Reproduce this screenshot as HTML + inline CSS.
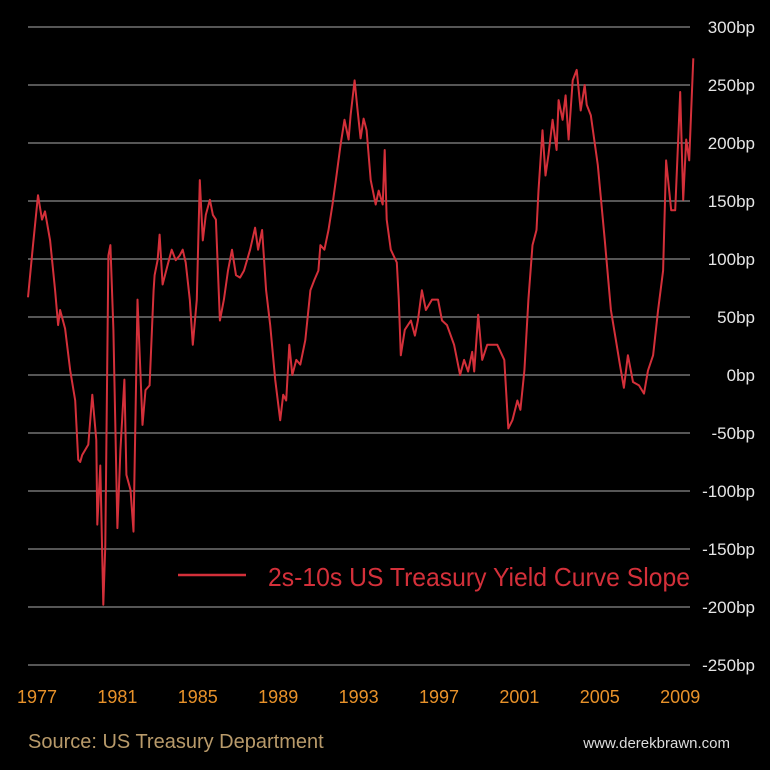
<!DOCTYPE html>
<html><head><meta charset="utf-8"><style>
html,body{margin:0;padding:0;background:#000;}
svg{display:block;font-family:"Liberation Sans",sans-serif;}
</style></head><body>
<svg id="chart" width="770" height="770" viewBox="0 0 770 770">
<g id="grid"></g>
<g id="ylab"></g>
<g id="xlab"></g>
<path id="series" fill="none" stroke="#d4303a" stroke-width="2" stroke-linejoin="round"/>
<g>
<line x1="178" y1="575" x2="246" y2="575" stroke="#d4303a" stroke-width="2.5"/>
<text x="268" y="586" font-size="26" fill="#d4303a" textLength="422" lengthAdjust="spacingAndGlyphs">2s-10s US Treasury Yield Curve Slope</text>
</g>
<text x="28" y="748" font-size="20" fill="#b89a6a">Source: US Treasury Department</text>
<text x="730" y="748" font-size="15" fill="#ddd" text-anchor="end">www.derekbrawn.com</text>
</svg>
<script>
const years=[1976.55,1976.8,1977.05,1977.25,1977.4,1977.65,1977.9,1978.05,1978.15,1978.4,1978.65,1978.9,1979.05,1979.15,1979.25,1979.55,1979.75,1979.95,1980.0,1980.15,1980.3,1980.4,1980.55,1980.65,1980.8,1981.0,1981.15,1981.35,1981.45,1981.65,1981.8,1982.0,1982.25,1982.4,1982.6,1982.8,1982.85,1983.0,1983.1,1983.25,1983.5,1983.7,1983.9,1984.1,1984.25,1984.4,1984.6,1984.75,1984.95,1985.1,1985.25,1985.4,1985.6,1985.75,1985.9,1986.1,1986.3,1986.5,1986.7,1986.9,1987.1,1987.3,1987.6,1987.85,1988.0,1988.2,1988.4,1988.6,1988.85,1989.1,1989.25,1989.4,1989.55,1989.7,1989.9,1990.1,1990.35,1990.6,1990.8,1991.0,1991.1,1991.3,1991.5,1991.7,1991.9,1992.1,1992.3,1992.5,1992.6,1992.8,1992.95,1993.1,1993.25,1993.4,1993.6,1993.85,1994.0,1994.2,1994.3,1994.4,1994.6,1994.9,1995.0,1995.1,1995.3,1995.6,1995.8,1995.95,1996.15,1996.35,1996.65,1996.95,1997.15,1997.4,1997.75,1998.05,1998.25,1998.45,1998.65,1998.75,1998.95,1999.15,1999.4,1999.9,2000.25,2000.45,2000.65,2000.9,2001.05,2001.25,2001.45,2001.65,2001.85,2001.95,2002.15,2002.3,2002.45,2002.65,2002.85,2002.95,2003.15,2003.3,2003.45,2003.65,2003.85,2004.05,2004.25,2004.35,2004.55,2004.9,2005.25,2005.55,2005.8,2006.0,2006.2,2006.4,2006.65,2006.95,2007.2,2007.4,2007.65,2007.9,2008.15,2008.3,2008.55,2008.75,2009.0,2009.15,2009.3,2009.45,2009.65];
const slopeBp=[67,112,155,134,141,116,73,43,56,40,4,-22,-73,-75,-69,-60,-17,-56,-129,-78,-198,-147,103,112,39,-132,-65,-4,-86,-99,-135,65,-43,-13,-9,73,86,99,121,78,95,108,99,103,108,97,65,26,65,168,116,138,151,138,134,47,65,90,108,86,84,90,108,127,108,125,73,43,-4,-39,-17,-22,26,0,13,9,30,73,82,90,112,108,125,147,172,198,220,203,224,254,228,204,221,211,168,147,159,147,194,134,108,97,65,17,39,47,34,47,73,56,65,65,47,43,26,0,13,3,20,3,52,13,26,26,13,-46,-39,-22,-30,4,65,112,125,159,211,172,190,220,194,237,220,241,203,254,263,228,250,233,224,181,116,56,30,9,-11,17,-6,-9,-16,4,17,56,90,185,142,142,244,151,203,185,273];
const yTicks=[300,250,200,150,100,50,0,-50,-100,-150,-200,-250];
const xTicks=[1977,1981,1985,1989,1993,1997,2001,2005,2009];
const NS='http://www.w3.org/2000/svg';
function yPos(v){return 375-v*1.16;}
function xPos(t){return 37+(t-1977)*20.1;}
const grid=document.getElementById('grid'),ylab=document.getElementById('ylab'),xlab=document.getElementById('xlab');
yTicks.forEach(v=>{
  const l=document.createElementNS(NS,'line');
  l.setAttribute('x1',28);l.setAttribute('x2',690);
  l.setAttribute('y1',yPos(v));l.setAttribute('y2',yPos(v));
  l.setAttribute('stroke','#8a8a8a');l.setAttribute('stroke-width','1.3');
  
  
  grid.appendChild(l);
  const t=document.createElementNS(NS,'text');
  t.setAttribute('x',755);t.setAttribute('y',yPos(v)+6);
  t.setAttribute('text-anchor','end');t.setAttribute('font-size','17');t.setAttribute('fill','#e6e6e6');
  t.textContent=v+'bp';
  
  
  ylab.appendChild(t);
});
xTicks.forEach(yr=>{
  const t=document.createElementNS(NS,'text');
  t.setAttribute('x',xPos(yr));t.setAttribute('y',703);
  t.setAttribute('text-anchor','middle');t.setAttribute('font-size','18');t.setAttribute('fill','#e8922a');
  t.textContent=yr;
  
  
  xlab.appendChild(t);
});
let d='';
years.forEach((yr,i)=>{d+=(i?'L':'M')+xPos(yr).toFixed(1)+','+yPos(slopeBp[i]).toFixed(1);});
document.getElementById('series').setAttribute('d',d);
</script>
</body></html>
